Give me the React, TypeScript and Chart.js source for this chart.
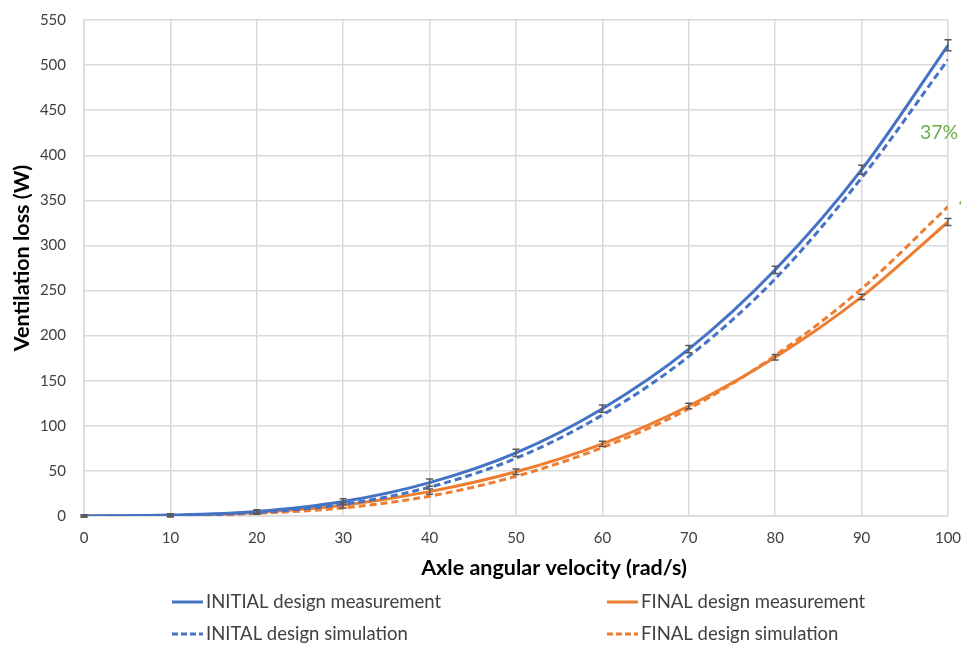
import React, { useEffect, useRef } from "react";
import { Chart, registerables } from "chart.js";

Chart.register(...registerables);

const velocities = [0, 10, 20, 30, 40, 50, 60, 70, 80, 90, 100];
const initialMeasurement = [0, 1, 5, 16, 37, 70, 119, 185, 273, 384, 522];
const initialSimulation = [0, 0.5, 4, 13, 32, 64, 112, 177, 263, 375, 506];
const finalMeasurement = [0, 0.5, 4, 12, 27, 49, 80, 122, 176, 243, 326];
const finalSimulation = [0, 0.4, 3, 9, 22, 44, 76, 119, 178, 252, 343];
const initialErrors = [1, 1.5, 2, 3, 4, 4, 4, 4, 4, 5, 6];
const finalErrors = [1, 1.5, 2, 3, 3, 3, 3, 3, 3, 3, 4];
const yTicks = [0, 50, 100, 150, 200, 250, 300, 350, 400, 450, 500, 550];
const reductionLabel = "37%";
const xTitle = "Axle angular velocity (rad/s)";
const yTitle = "Ventilation loss (W)";

const BLUE = "#4472C4";
const ORANGE = "#ED7D31";
const GREEN = "#70AD47";
const FONT = "Lato, 'Open Sans', sans-serif";
const SHIFT = 7; // canvas is shifted up by this many pixels

const errorBarPlugin = {
  id: "errorBars",
  afterDatasetsDraw(chart: any) {
    const ctx = chart.ctx;
    const yScale = chart.scales.y;
    ctx.save();
    ctx.strokeStyle = "#595959";
    ctx.lineWidth = 1.5;
    chart.data.datasets.forEach((ds: any, di: number) => {
      if (!ds.errors) return;
      const meta = chart.getDatasetMeta(di);
      meta.data.forEach((pt: any, i: number) => {
        const v = ds.data[i];
        const e = ds.errors[i];
        const yTop = yScale.getPixelForValue(v + e);
        const yBot = yScale.getPixelForValue(v - e);
        ctx.beginPath();
        ctx.moveTo(pt.x, yTop);
        ctx.lineTo(pt.x, yBot);
        ctx.moveTo(pt.x - 3.5, yTop);
        ctx.lineTo(pt.x + 3.5, yTop);
        ctx.moveTo(pt.x - 3.5, yBot);
        ctx.lineTo(pt.x + 3.5, yBot);
        ctx.stroke();
      });
    });
    ctx.restore();
  },
};

const annotationPlugin = {
  id: "annotations",
  afterDraw(chart: any) {
    const ctx = chart.ctx;
    ctx.save();
    ctx.translate(0, SHIFT);
    ctx.fillStyle = GREEN;
    ctx.font = `19.5px ${FONT}`;
    ctx.textAlign = "left";
    ctx.textBaseline = "middle";
    ctx.fillText(reductionLabel, 920, 133);
    ctx.fillText("4", 959, 202);

    // axis titles
    ctx.fillStyle = "#000";
    ctx.font = `bold 21.5px ${FONT}`;
    ctx.textAlign = "center";
    ctx.textBaseline = "middle";
    ctx.fillText(xTitle, 554, 568);
    ctx.translate(22, 258);
    ctx.rotate(-Math.PI / 2);
    ctx.fillText(yTitle, 0, 0);
    ctx.restore();
  },
};

const legendPlugin = {
  id: "customLegend",
  afterDraw(chart: any) {
    const ctx = chart.ctx;
    const items = [
      { label: "INITIAL design measurement", color: BLUE, dash: [], x: 172, y: 602 },
      { label: "FINAL design measurement", color: ORANGE, dash: [], x: 607, y: 602 },
      { label: "INITAL design simulation", color: BLUE, dash: [6, 3], x: 172, y: 634 },
      { label: "FINAL design simulation", color: ORANGE, dash: [6, 3], x: 607, y: 634 },
    ];
    ctx.save();
    ctx.translate(0, SHIFT);
    items.forEach((it) => {
      ctx.strokeStyle = it.color;
      ctx.lineWidth = 3;
      ctx.setLineDash(it.dash);
      ctx.beginPath();
      ctx.moveTo(it.x, it.y);
      ctx.lineTo(it.x + 31, it.y);
      ctx.stroke();
      ctx.setLineDash([]);
      ctx.fillStyle = "#404040";
      ctx.font = `18.5px ${FONT}`;
      ctx.textAlign = "left";
      ctx.textBaseline = "middle";
      ctx.fillText(it.label, it.x + 34, it.y);
    });
    ctx.restore();
  },
};

export default function App() {
  const canvasRef = useRef<HTMLCanvasElement | null>(null);

  useEffect(() => {
    if (!canvasRef.current) return;
    const lineDs = (label: string, data: number[], color: string, dashed: boolean, errors?: number[]) => ({
      label,
      data,
      borderColor: color,
      backgroundColor: color,
      borderWidth: 3,
      borderDash: dashed ? [7, 4] : [],
      pointRadius: 0,
      cubicInterpolationMode: "monotone" as const,
      fill: false,
      errors,
    });
    const chart = new Chart(canvasRef.current, {
      type: "line",
      data: {
        labels: velocities,
        datasets: [
          lineDs("INITIAL design measurement", initialMeasurement, BLUE, false, initialErrors),
          lineDs("INITAL design simulation", initialSimulation, BLUE, true),
          lineDs("FINAL design measurement", finalMeasurement, ORANGE, false, finalErrors),
          lineDs("FINAL design simulation", finalSimulation, ORANGE, true),
        ] as any,
      },
      options: {
        animation: false,
        responsive: false,
        layout: { padding: { top: 0, right: 52, left: 0, bottom: 66 } },
        plugins: {
          legend: { display: false },
          tooltip: { enabled: false },
        },
        scales: {
          x: {
            type: "linear",
            min: 0,
            max: 100,
            afterFit: (s: any) => {
              s.height = 63;
            },
            afterBuildTicks: (s: any) => {
              s.ticks = velocities.map((v) => ({ value: v }));
            },
            grid: { color: "#D9D9D9", lineWidth: 1.5, drawTicks: false },
            border: { color: "#D9D9D9", width: 1.5 },
            ticks: { color: "#404040", font: { family: FONT, size: 15 }, padding: 13 },
          },
          y: {
            min: 0,
            max: 550,
            afterFit: (s: any) => {
              s.width = 84;
            },
            afterBuildTicks: (s: any) => {
              s.ticks = yTicks.map((v) => ({ value: v }));
            },
            grid: { color: "#D9D9D9", lineWidth: 1.5, drawTicks: false },
            border: { color: "#D9D9D9", width: 1.5 },
            ticks: { color: "#404040", font: { family: FONT, size: 15 }, padding: 18 },
          },
        },
      },
      plugins: [errorBarPlugin, annotationPlugin, legendPlugin],
    });
    return () => chart.destroy();
  }, []);

  return (
    <div
      style={{
        position: "fixed",
        left: 0,
        top: 0,
        width: 961,
        height: 645,
        overflow: "hidden",
        background: "#fff",
      }}
    >
      <canvas
        ref={canvasRef}
        width={1000}
        height={645 + SHIFT}
        style={{ width: 1000, height: 645 + SHIFT, position: "absolute", left: 0, top: -SHIFT }}
      />
    </div>
  );
}
